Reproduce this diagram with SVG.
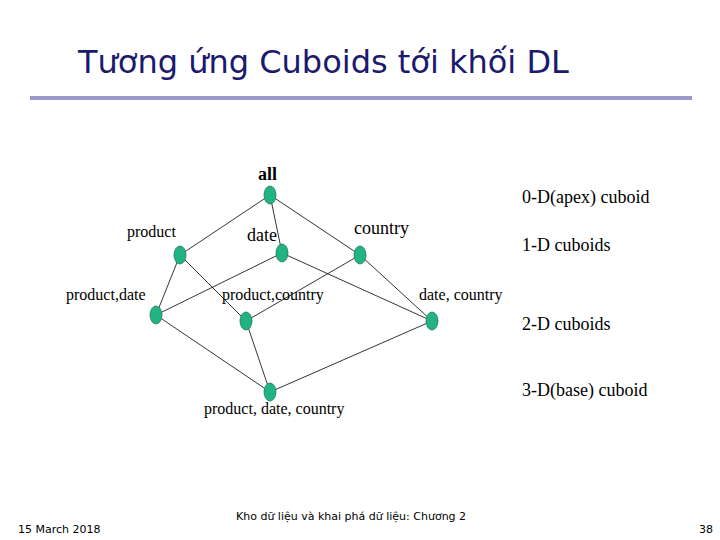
<svg xmlns="http://www.w3.org/2000/svg" width="720" height="540" viewBox="0 0 720 540">
<style>
.n{fill:#22b383;stroke:#1a7a5a;stroke-width:0.8}
.e{stroke:#000;stroke-width:0.8;fill:none}
.t{font-family:"Liberation Serif",serif;font-size:16px;fill:#000}
.b{font-size:18px}
.f{font-family:"DejaVu Sans",sans-serif;font-size:11px;fill:#000}
</style>
<rect width="720" height="540" fill="#fff"/>
<text x="78" y="73" font-family="DejaVu Sans,sans-serif" font-size="32" fill="#1a1a6e">Tương ứng Cuboids tới khối DL</text>
<rect x="30" y="96" width="662" height="4" fill="#9999cc"/>
<g id="connectors">
<line class="e" x1="270" y1="195" x2="180" y2="255"/>
<line class="e" x1="270" y1="195" x2="282" y2="253"/>
<line class="e" x1="270" y1="195" x2="360" y2="255"/>
<line class="e" x1="180" y1="255" x2="156" y2="315"/>
<line class="e" x1="180" y1="255" x2="246" y2="321"/>
<line class="e" x1="282" y1="253" x2="156" y2="315"/>
<line class="e" x1="282" y1="253" x2="432" y2="321"/>
<line class="e" x1="360" y1="255" x2="246" y2="321"/>
<line class="e" x1="360" y1="255" x2="432" y2="321"/>
<line class="e" x1="156" y1="315" x2="270" y2="392"/>
<line class="e" x1="246" y1="321" x2="270" y2="392"/>
<line class="e" x1="432" y1="321" x2="270" y2="392"/>
</g>
<g id="all"><ellipse class="n" cx="270" cy="195" rx="6" ry="9"/><text x="258" y="180" class="t b" font-weight="bold">all</text></g>
<g id="product"><ellipse class="n" cx="180" cy="255" rx="6" ry="9"/><text x="127" y="237" class="t">product</text></g>
<g id="date"><ellipse class="n" cx="282" cy="253" rx="6" ry="9"/><text x="247" y="241" class="t b">date</text></g>
<g id="country"><ellipse class="n" cx="360" cy="255" rx="6" ry="9"/><text x="354" y="234" class="t b">country</text></g>
<g id="product-date"><ellipse class="n" cx="156" cy="315" rx="6" ry="9"/><text x="66" y="300" class="t">product,date</text></g>
<g id="product-country"><ellipse class="n" cx="246" cy="321" rx="6" ry="9"/><text x="222" y="300" class="t">product,country</text></g>
<g id="date-country"><ellipse class="n" cx="432" cy="321" rx="6" ry="9"/><text x="419" y="300" class="t">date, country</text></g>
<g id="base"><ellipse class="n" cx="270" cy="392" rx="6" ry="9"/><text x="204" y="414" class="t">product, date, country</text></g>
<text x="522" y="203" class="t b">0-D(apex) cuboid</text>
<text x="522" y="251" class="t b">1-D cuboids</text>
<text x="522" y="330" class="t b">2-D cuboids</text>
<text x="522" y="396" class="t b">3-D(base) cuboid</text>
<text x="18" y="533" class="f">15 March 2018</text>
<text x="236" y="520" class="f">Kho dữ liệu và khai phá dữ liệu: Chương 2</text>
<text x="699" y="533" class="f">38</text>
</svg>
